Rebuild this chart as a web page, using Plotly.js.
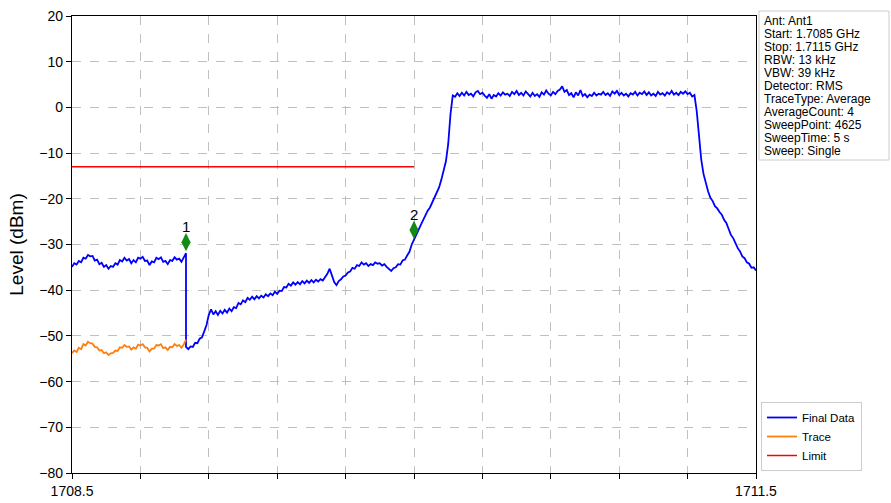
<!DOCTYPE html>
<html>
<head>
<meta charset="utf-8">
<script src="https://cdn.plot.ly/plotly-3.0.1.min.js"></script>
<style>html,body{margin:0;padding:0;background:#fff;}#chart{width:891px;height:503px;}</style>
</head>
<body>
<div id="chart"></div>
<script>
// ---- Data ----
const finalFreq = [
1708.50,1708.51,1708.52,1708.53,1708.54,1708.55,1708.56,1708.57,1708.58,1708.59,
1708.60,1708.61,1708.62,1708.63,1708.64,1708.65,1708.66,1708.67,1708.68,1708.69,
1708.70,1708.71,1708.72,1708.73,1708.74,1708.75,1708.76,1708.77,1708.78,1708.79,
1708.80,1708.81,1708.82,1708.83,1708.84,1708.85,1708.86,1708.87,1708.88,1708.89,
1708.90,1708.91,1708.92,1708.93,1708.94,1708.95,1708.96,1708.97,1708.98,1708.99,
1709.00,1709.00,
1709.01,1709.02,1709.03,1709.04,1709.05,1709.06,1709.07,1709.08,1709.09,1709.10,
1709.11,1709.12,1709.13,1709.14,1709.15,1709.16,1709.17,1709.18,1709.19,1709.20,
1709.21,1709.22,1709.23,1709.24,1709.25,1709.26,1709.27,1709.28,1709.29,1709.30,
1709.31,1709.32,1709.33,1709.34,1709.35,1709.36,1709.37,1709.38,1709.39,1709.40,
1709.41,1709.42,1709.43,1709.44,1709.45,1709.46,1709.47,1709.48,1709.49,1709.50,
1709.51,1709.52,1709.53,1709.54,1709.55,1709.56,1709.57,1709.58,1709.59,1709.60,
1709.61,1709.62,1709.63,1709.64,1709.65,1709.66,1709.67,1709.68,1709.69,1709.70,
1709.71,1709.72,1709.73,1709.74,1709.75,1709.76,1709.77,1709.78,1709.79,1709.80,
1709.81,1709.82,1709.83,1709.84,1709.85,1709.86,1709.87,1709.88,1709.89,1709.90,
1709.91,1709.92,1709.93,1709.94,1709.95,1709.96,1709.97,1709.98,1709.99,1710.00,
1710.01,1710.02,1710.03,1710.04,1710.05,1710.06,1710.07,1710.08,1710.09,1710.10,
1710.11,1710.12,1710.13,1710.14,1710.15,1710.16,1710.17,1710.18,1710.19,1710.20,
1710.21,1710.22,1710.23,1710.24,1710.25,1710.26,1710.27,1710.28,1710.29,1710.30,
1710.31,1710.32,1710.33,1710.34,1710.35,1710.36,1710.37,1710.38,1710.39,1710.40,
1710.41,1710.42,1710.43,1710.44,1710.45,1710.46,1710.47,1710.48,1710.49,1710.50,
1710.51,1710.52,1710.53,1710.54,1710.55,1710.56,1710.57,1710.58,1710.59,1710.60,
1710.61,1710.62,1710.63,1710.64,1710.65,1710.66,1710.67,1710.68,1710.69,1710.70,
1710.71,1710.72,1710.73,1710.74,1710.75,1710.76,1710.77,1710.78,1710.79,1710.80,
1710.81,1710.82,1710.83,1710.84,1710.85,1710.86,1710.87,1710.88,1710.89,1710.90,
1710.91,1710.92,1710.93,1710.94,1710.95,1710.96,1710.97,1710.98,1710.99,1711.00,
1711.01,1711.02,1711.03,1711.04,1711.05,1711.06,1711.07,1711.08,1711.09,1711.10,
1711.11,1711.12,1711.13,1711.14,1711.15,1711.16,1711.17,1711.18,1711.19,1711.20,
1711.21,1711.22,1711.23,1711.24,1711.25,1711.26,1711.27,1711.28,1711.29,1711.30,
1711.31,1711.32,1711.33,1711.34,1711.35,1711.36,1711.37,1711.38,1711.39,1711.40,
1711.41,1711.42,1711.43,1711.44,1711.45,1711.46,1711.47,1711.48,1711.49,1711.50
];
const finalLevel = [
-34.9,-34.1,-34.4,-33.6,-33.9,-32.9,-33.1,-32.3,-32.6,-32.5,
-33.5,-33.3,-34.3,-34.0,-34.9,-34.5,-35.3,-34.7,-34.9,-34.1,
-34.4,-33.4,-33.7,-32.9,-33.5,-33.2,-34.1,-33.4,-33.9,-32.9,
-33.1,-32.7,-33.6,-33.5,-34.5,-33.7,-33.9,-32.9,-33.2,-32.8,
-33.8,-33.6,-34.3,-33.4,-33.6,-32.8,-33.3,-33.1,-33.8,-32.9,
-31.9,-52.4,
-52.9,-52.3,-52.4,-51.5,-51.6,-50.6,-50.3,-49.0,-47.6,-45.4,
-44.2,-45.3,-44.6,-45.4,-44.5,-45.1,-44.3,-44.9,-44.0,-44.6,
-43.7,-43.9,-42.8,-43.1,-42.2,-42.6,-41.7,-42.1,-41.4,-42.0,
-41.3,-41.8,-41.2,-41.6,-40.9,-41.3,-40.7,-41.1,-40.3,-40.8,
-40.1,-40.2,-39.3,-39.4,-38.6,-39.0,-38.3,-38.8,-38.2,-38.7,
-38.0,-38.5,-37.9,-38.4,-37.8,-38.3,-37.7,-38.1,-37.6,-37.9,
-37.2,-36.4,-35.3,-36.6,-38.2,-38.9,-38.0,-37.6,-37.0,-36.8,
-36.1,-35.9,-35.1,-35.3,-34.5,-34.7,-33.9,-34.4,-34.1,-34.7,
-34.3,-34.5,-33.9,-34.2,-34.1,-34.6,-34.3,-34.9,-35.3,-35.8,
-35.2,-35.0,-34.3,-34.4,-33.5,-33.3,-32.4,-31.6,-30.0,-28.8,
-27.8,-26.8,-25.7,-24.6,-23.8,-22.6,-21.9,-20.8,-19.9,-18.7,
-17.5,-15.8,-13.9,-11.8,-8.0,-1.5,2.6,2.3,3.1,2.5,
3.2,2.6,3.4,2.7,3.0,2.4,3.3,3.6,2.9,3.2,
2.6,2.1,2.9,1.9,2.7,2.4,3.1,2.6,3.3,2.8,
3.0,2.5,3.4,2.9,3.6,2.7,3.2,2.6,3.5,3.0,
2.4,3.2,2.5,2.9,2.3,3.3,2.8,3.7,3.0,2.6,
3.4,2.9,3.6,3.9,4.6,3.4,3.8,2.7,3.1,2.2,
3.3,2.6,3.8,2.5,2.9,2.2,2.8,2.5,3.2,2.6,
3.0,2.8,3.4,2.7,3.1,2.5,3.5,3.0,3.6,2.7,
3.2,2.6,3.0,2.4,3.1,2.8,3.4,2.6,3.2,2.9,
3.5,2.7,3.3,2.6,3.0,2.5,3.4,2.8,3.1,2.6,
3.3,2.9,3.6,2.8,3.2,2.7,3.4,3.0,3.5,2.9,
3.2,2.4,2.7,-0.8,-6.5,-11.5,-14.6,-16.8,-18.4,-19.8,
-20.5,-21.6,-22.1,-22.9,-23.5,-24.6,-25.3,-26.6,-27.9,-28.6,
-29.9,-30.8,-31.5,-32.6,-33.0,-33.9,-34.2,-35.1,-35.0,-35.7
];
const traceFreq = [
1708.50,1708.51,1708.52,1708.53,1708.54,1708.55,1708.56,1708.57,1708.58,1708.59,
1708.60,1708.61,1708.62,1708.63,1708.64,1708.65,1708.66,1708.67,1708.68,1708.69,
1708.70,1708.71,1708.72,1708.73,1708.74,1708.75,1708.76,1708.77,1708.78,1708.79,
1708.80,1708.81,1708.82,1708.83,1708.84,1708.85,1708.86,1708.87,1708.88,1708.89,
1708.90,1708.91,1708.92,1708.93,1708.94,1708.95,1708.96,1708.97,1708.98,1708.99,
1709.00
];
const traceLevel = [
-53.8,-53.2,-53.5,-52.6,-52.9,-51.8,-52.1,-51.3,-51.6,-51.7,
-52.4,-52.5,-53.2,-53.1,-53.8,-53.6,-54.2,-53.8,-53.7,-53.2,
-53.3,-52.5,-52.6,-52.0,-52.4,-52.3,-53.0,-52.5,-52.8,-51.9,
-52.1,-51.8,-52.5,-52.6,-53.4,-52.8,-52.8,-52.0,-52.1,-51.8,
-52.7,-52.5,-53.1,-52.4,-52.5,-51.8,-52.2,-52.0,-52.6,-51.9,
-50.8
];
const limitFreq = [1708.5, 1710.0];
const limitLevel = [-13, -13];
const markerFreq = [1709.0, 1710.0];
const markerLevel = [-29.5, -26.8];
const markerLabels = ["1", "2"];
const xTickVals = [1708.5,1708.8,1709.1,1709.4,1709.7,1710.0,1710.3,1710.6,1710.9,1711.2,1711.5];
const xTickText = ["1708.5","","","","","","","","","","1711.5"];
const infoLines = ["Ant: Ant1","Start: 1.7085 GHz","Stop: 1.7115 GHz","RBW: 13 kHz","VBW: 39 kHz",
  "Detector: RMS","TraceType: Average","AverageCount: 4","SweepPoint: 4625","SweepTime: 5 s","Sweep: Single"];

// ---- Layout helpers (pixel -> paper) ----
const W = 891, H = 503, L = 72, R = 756, T = 16, B = 473;
const px2x = p => (p - L) / (R - L);
const py2y = p => (B - p) / (B - T);
const FONT = "Liberation Sans, Arial, sans-serif";

const traces = [
  {x: finalFreq, y: finalLevel, type: "scatter", mode: "lines", name: "Final Data",
   line: {color: "#0000ff", width: 1.8}},
  {x: traceFreq, y: traceLevel, type: "scatter", mode: "lines", name: "Trace",
   line: {color: "#ff7f0e", width: 1.8}},
  {x: limitFreq, y: limitLevel, type: "scatter", mode: "lines", name: "Limit",
   line: {color: "#ff0000", width: 1.5}},
  {x: markerFreq, y: markerLevel, type: "scatter", mode: "markers", showlegend: false,
   marker: {symbol: "diamond-tall", size: 13, color: "#138a13", line: {width: 0}}}
];

const annotations = infoLines.map((t, i) => ({
  text: t, xref: "paper", yref: "paper", x: px2x(762), y: py2y(21 + 13.0 * i),
  xanchor: "left", yanchor: "middle", showarrow: false, align: "left",
  font: {family: FONT, size: 12, color: "#000"}
}));
markerLabels.forEach((t, i) => annotations.push({
  text: t, xref: "x", yref: "y", x: markerFreq[i], y: markerLevel[i],
  xanchor: "center", yanchor: "bottom", yshift: 5, showarrow: false,
  font: {family: FONT, size: 15, color: "#000"}
}));

const layout = {
  width: W, height: H,
  margin: {l: L, r: W - R, t: T, b: H - B, pad: 0},
  paper_bgcolor: "#fff", plot_bgcolor: "#fff",
  font: {family: FONT, size: 14, color: "#000"},
  showlegend: true,
  legend: {x: px2x(761), y: py2y(471), xanchor: "left", yanchor: "bottom",
    bordercolor: "#cccccc", borderwidth: 1, bgcolor: "#fff",
    font: {family: FONT, size: 11.5, color: "#000"}, tracegroupgap: 0, itemwidth: 30},
  xaxis: {range: [1708.5, 1711.5], tickmode: "array", tickvals: xTickVals, ticktext: xTickText,
    showgrid: true, gridcolor: "#b0b0b0", griddash: "dash", gridwidth: 0.8,
    showline: true, linecolor: "#000", linewidth: 1.2, mirror: true,
    ticks: "outside", ticklen: 5, tickcolor: "#000", zeroline: false,
    tickfont: {family: FONT, size: 14, color: "#000"}},
  yaxis: {range: [-80, 20], tickmode: "array", tickvals: [-80,-70,-60,-50,-40,-30,-20,-10,0,10,20],
    showgrid: true, gridcolor: "#b0b0b0", griddash: "dash", gridwidth: 0.8,
    showline: true, linecolor: "#000", linewidth: 1.2, mirror: true,
    ticks: "outside", ticklen: 5, tickcolor: "#000", zeroline: false,
    tickfont: {family: FONT, size: 14, color: "#000"},
    title: {text: "Level (dBm)", font: {family: FONT, size: 19, color: "#000"}, standoff: 10}},
  shapes: [{type: "rect", xref: "paper", yref: "paper",
    x0: px2x(759), x1: px2x(889), y0: py2y(160), y1: py2y(11),
    line: {color: "#cccccc", width: 1}, fillcolor: "rgba(255,255,255,0)", layer: "above"}],
  annotations: annotations
};

Plotly.newPlot("chart", traces, layout, {displayModeBar: false, staticPlot: true});
</script>
</body>
</html>
